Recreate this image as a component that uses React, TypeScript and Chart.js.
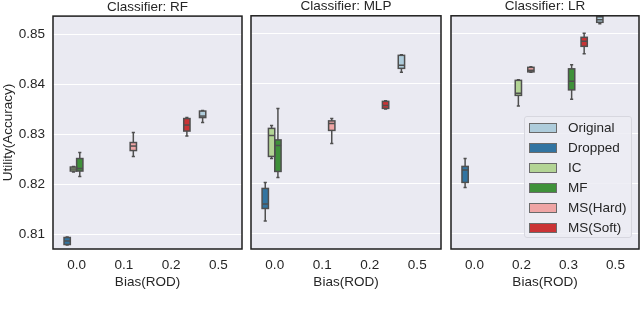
import React, { useEffect, useRef } from 'react';
import { Chart, registerables } from 'chart.js';

Chart.register(...registerables);

// ---- data ----
const methods = ['Original', 'Dropped', 'IC', 'MF', 'MS(Hard)', 'MS(Soft)'];
const colors = ['#aeccdb', '#3274a1', '#b3d495', '#3f913a', '#efa5a5', '#ca3335'];
const yTicks = [0.81, 0.82, 0.83, 0.84, 0.85];
const classifiers = ['RF', 'MLP', 'LR'];

// RF
const rfBias = ['0.0', '0.1', '0.2', '0.5'];
const rfPos = ['0.5', '0.0', '0.0', '0.0', '0.1', '0.2'];
const rfMin = [0.8323, 0.8078, 0.8224, 0.8215, 0.8255, 0.8296];
const rfQ1 = [0.8333, 0.8079, 0.8226, 0.8226, 0.8267, 0.8306];
const rfMed = [0.8336, 0.8086, 0.8230, 0.8231, 0.8276, 0.8318];
const rfQ3 = [0.8346, 0.8093, 0.8234, 0.8251, 0.8283, 0.8331];
const rfMax = [0.8347, 0.8094, 0.8235, 0.8263, 0.8303, 0.8333];

// MLP
const mlpBias = ['0.0', '0.1', '0.2', '0.5'];
const mlpPos = ['0.5', '0.0', '0.0', '0.0', '0.1', '0.2'];
const mlpMin = [0.8423, 0.8126, 0.8251, 0.8213, 0.8281, 0.8350];
const mlpQ1 = [0.8431, 0.8151, 0.8255, 0.8225, 0.8307, 0.8351];
const mlpMed = [0.8437, 0.8160, 0.8297, 0.8277, 0.8321, 0.8357];
const mlpQ3 = [0.8457, 0.8191, 0.8311, 0.8288, 0.8326, 0.8365];
const mlpMax = [0.8458, 0.8203, 0.8317, 0.8351, 0.8331, 0.8366];

// LR
const lrBias = ['0.0', '0.2', '0.3', '0.5'];
const lrPos = ['0.5', '0.0', '0.2', '0.3', '0.2', '0.3'];
const lrMin = [0.8520, 0.8193, 0.8356, 0.8369, 0.8423, 0.8460];
const lrQ1 = [0.8523, 0.8203, 0.8377, 0.8388, 0.8424, 0.8475];
const lrMed = [0.8528, 0.8228, 0.8381, 0.8405, 0.8427, 0.8485];
const lrQ3 = [0.8534, 0.8235, 0.8407, 0.8430, 0.8433, 0.8493];
const lrMax = [0.8542, 0.8251, 0.8408, 0.8438, 0.8434, 0.8501];

const panels = [
  { bias: rfBias, pos: rfPos, min: rfMin, q1: rfQ1, med: rfMed, q3: rfQ3, max: rfMax },
  { bias: mlpBias, pos: mlpPos, min: mlpMin, q1: mlpQ1, med: mlpMed, q3: mlpQ3, max: mlpMax },
  { bias: lrBias, pos: lrPos, min: lrMin, q1: lrQ1, med: lrMed, q3: lrQ3, max: lrMax },
];

const FONT = "'Liberation Sans', Arial, sans-serif";
const TEXT = '#262626';
const LINE = '#4f4f4f';

const layoutBoxes = [
  { left: 0, width: 244, pad: { left: 0, right: 2, top: 0, bottom: 0 } },
  { left: 249, width: 193, pad: { left: 2, right: 1, top: 0, bottom: 0 } },
  { left: 449, width: 191, pad: { left: 2, right: 1, top: 0, bottom: 0 } },
];

function makePlugins(panel: any) {
  const bg = {
    id: 'bgFrame',
    beforeDraw(chart: any) {
      const { ctx, chartArea: a } = chart;
      ctx.save();
      ctx.fillStyle = '#eaeaf2';
      ctx.fillRect(a.left, a.top, a.right - a.left, a.bottom - a.top);
      ctx.restore();
    },
    afterDraw(chart: any) {
      const { ctx, chartArea: a } = chart;
      ctx.save();
      ctx.strokeStyle = '#1e1e1e';
      ctx.lineWidth = 1.5;
      ctx.strokeRect(a.left, a.top, a.right - a.left, a.bottom - a.top);
      ctx.restore();
    },
  };
  const box = {
    id: 'boxes',
    afterDatasetsDraw(chart: any) {
      const { ctx, chartArea: a } = chart;
      const ys = chart.scales.y;
      ctx.save();
      ctx.beginPath();
      ctx.rect(a.left, a.top, a.right - a.left, a.bottom - a.top);
      ctx.clip();
      ctx.strokeStyle = LINE;
      ctx.lineWidth = 1.5;
      methods.forEach((_, i) => {
        const meta = chart.getDatasetMeta(i);
        panel.bias.forEach((b: string, j: number) => {
          if (b !== panel.pos[i]) return;
          const el = meta.data[j];
          const x = el.x;
          const w = el.width;
          const yMin = ys.getPixelForValue(panel.min[i]);
          const yQ1 = ys.getPixelForValue(panel.q1[i]);
          const yMed = ys.getPixelForValue(panel.med[i]);
          const yQ3 = ys.getPixelForValue(panel.q3[i]);
          const yMax = ys.getPixelForValue(panel.max[i]);
          const cw = w * 0.25;
          ctx.beginPath();
          ctx.moveTo(x, yQ1); ctx.lineTo(x, yMin);
          ctx.moveTo(x - cw, yMin); ctx.lineTo(x + cw, yMin);
          ctx.moveTo(x, yQ3); ctx.lineTo(x, yMax);
          ctx.moveTo(x - cw, yMax); ctx.lineTo(x + cw, yMax);
          ctx.stroke();
          ctx.strokeRect(x - w / 2, yQ3, w, yQ1 - yQ3);
          ctx.beginPath();
          ctx.moveTo(x - w / 2, yMed); ctx.lineTo(x + w / 2, yMed);
          ctx.stroke();
        });
      });
      ctx.restore();
    },
  };
  return [bg, box];
}

function Panel({ idx }: { idx: number }) {
  const ref = useRef<HTMLCanvasElement>(null);
  useEffect(() => {
    const panel = panels[idx];
    const lb = layoutBoxes[idx];
    const font = { family: FONT, size: 13.5 };
    const datasets = methods.map((m, i) => ({
      label: m,
      data: panel.bias.map((b) => (b === panel.pos[i] ? [panel.q1[i], panel.q3[i]] : null)),
      backgroundColor: colors[i],
      borderWidth: 0,
      categoryPercentage: 0.8,
      barPercentage: 1.0,
    }));
    const chart = new Chart(ref.current as HTMLCanvasElement, {
      type: 'bar',
      data: { labels: panel.bias, datasets: datasets as any },
      plugins: makePlugins(panel) as any,
      options: {
        responsive: false,
        maintainAspectRatio: false,
        animation: false,
        events: [],
        layout: { padding: lb.pad },
        plugins: {
          legend: { display: false },
          tooltip: { enabled: false },
          title: {
            display: true,
            text: 'Classifier: ' + classifiers[idx],
            fullSize: false,
            color: TEXT,
            font: { family: FONT, size: 13.5, weight: 'normal', lineHeight: 1 },
            padding: { top: 0, bottom: 2.3 },
          },
        },
        scales: {
          x: {
            afterFit: (s: any) => { s.height = 63; },
            grid: { display: false, drawTicks: false },
            border: { display: false },
            ticks: { padding: 8, color: TEXT, font },
            title: {
              display: true,
              text: 'Bias(ROD)',
              color: TEXT,
              font,
              padding: { top: 0, bottom: 22 },
            },
          },
          y: {
            min: 0.807,
            max: 0.8536,
            afterBuildTicks: (s: any) => { s.ticks = yTicks.map((v) => ({ value: v })); },
            afterFit: (s: any) => { s.width = idx === 0 ? 53 : 0; },
            grid: { color: '#ffffff', lineWidth: 1, drawTicks: false },
            border: { display: false },
            ticks: {
              display: idx === 0,
              padding: 8,
              color: TEXT,
              font,
              callback: (v: any) => Number(v).toFixed(2),
            },
            title: {
              display: idx === 0,
              text: 'Utility(Accuracy)',
              color: TEXT,
              font,
              padding: 0,
            },
          },
        },
      } as any,
    });
    return () => chart.destroy();
  }, [idx]);
  const lb = layoutBoxes[idx];
  return (
    <canvas
      ref={ref}
      width={lb.width}
      height={312}
      style={{ position: 'absolute', left: lb.left, top: 0, width: lb.width, height: 312 }}
    />
  );
}

function Legend() {
  return (
    <div
      style={{
        position: 'absolute',
        left: 524,
        top: 116,
        width: 108,
        height: 122,
        boxSizing: 'border-box',
        paddingTop: 1,
        background: 'rgba(236,236,243,0.85)',
        border: '1px solid #d7d7df',
        borderRadius: 3,
        fontFamily: FONT,
        fontSize: 13.5,
        color: TEXT,
      }}
    >
      {methods.map((m, i) => (
        <div key={m} style={{ display: 'flex', alignItems: 'center', height: 20 }}>
          <div
            style={{
              marginLeft: 4,
              width: 28,
              height: 10,
              boxSizing: 'border-box',
              background: colors[i],
              border: '1.5px solid #6a6a6a',
            }}
          />
          <span style={{ marginLeft: 11, lineHeight: '20px' }}>{m}</span>
        </div>
      ))}
    </div>
  );
}

export default function App() {
  return (
    <div style={{ position: 'absolute', left: 0, top: 0, width: 640, height: 312, background: '#fff', overflow: 'hidden' }}>
      <Panel idx={0} />
      <Panel idx={1} />
      <Panel idx={2} />
      <Legend />
    </div>
  );
}
